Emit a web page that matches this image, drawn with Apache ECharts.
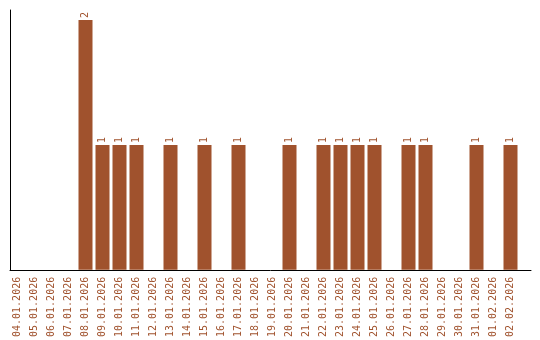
<!DOCTYPE html>
<html>
<head>
<meta charset="utf-8">
<script src="https://cdn.jsdelivr.net/npm/echarts@6/dist/echarts.min.js"></script>
<style>html,body{margin:0;padding:0;background:#fff}#c{width:540px;height:340px}</style>
</head>
<body>
<div id="c"></div>
<script>
const categories = ["04.01.2026","05.01.2026","06.01.2026","07.01.2026","08.01.2026","09.01.2026","10.01.2026","11.01.2026","12.01.2026","13.01.2026","14.01.2026","15.01.2026","16.01.2026","17.01.2026","18.01.2026","19.01.2026","20.01.2026","21.01.2026","22.01.2026","23.01.2026","24.01.2026","25.01.2026","26.01.2026","27.01.2026","28.01.2026","29.01.2026","30.01.2026","31.01.2026","01.02.2026","02.02.2026"];
const counts = [0,0,0,0,2,1,1,1,0,1,0,1,0,1,0,0,1,0,1,1,1,1,0,1,1,0,0,1,0,1];

const color = '#A0522D';
const font = 'DejaVu Sans Mono';
const chart = echarts.init(document.getElementById('c'), null, {renderer: 'canvas'});
chart.setOption({
  animation: false,
  textStyle: {fontFamily: font},
  grid: [
    {left: 9, width: 510, top: 20, bottom: 70, containLabel: false},
    {left: 10, right: 9, top: 10, bottom: 70, containLabel: false}
  ],
  xAxis: [
    {
      type: 'category', gridIndex: 0, data: categories,
      axisLine: {show: false}, axisTick: {show: false},
      axisLabel: {rotate: 90, interval: 0, margin: 7, color: color, fontFamily: font, fontSize: 10}
    },
    {
      type: 'value', gridIndex: 1, min: 0, max: 1,
      axisLine: {show: true, lineStyle: {color: '#000', width: 1}},
      axisTick: {show: false}, axisLabel: {show: false}, splitLine: {show: false}
    }
  ],
  yAxis: [
    {
      type: 'value', gridIndex: 0, min: 0, max: 2,
      axisLine: {show: false}, axisTick: {show: false}, axisLabel: {show: false}, splitLine: {show: false}
    },
    {
      type: 'value', gridIndex: 1, min: 0, max: 1,
      axisLine: {show: true, lineStyle: {color: '#000', width: 1}},
      axisTick: {show: false}, axisLabel: {show: false}, splitLine: {show: false}
    }
  ],
  series: [{
    type: 'bar', xAxisIndex: 0, yAxisIndex: 0,
    data: counts.map(v => v === 0 ? null : v),
    barWidth: 14,
    itemStyle: {color: color},
    label: {
      show: true, position: 'top', rotate: 90, align: 'left', verticalAlign: 'middle',
      distance: 2, color: color, fontFamily: font, fontSize: 10
    }
  }]
});
</script>
</body>
</html>
